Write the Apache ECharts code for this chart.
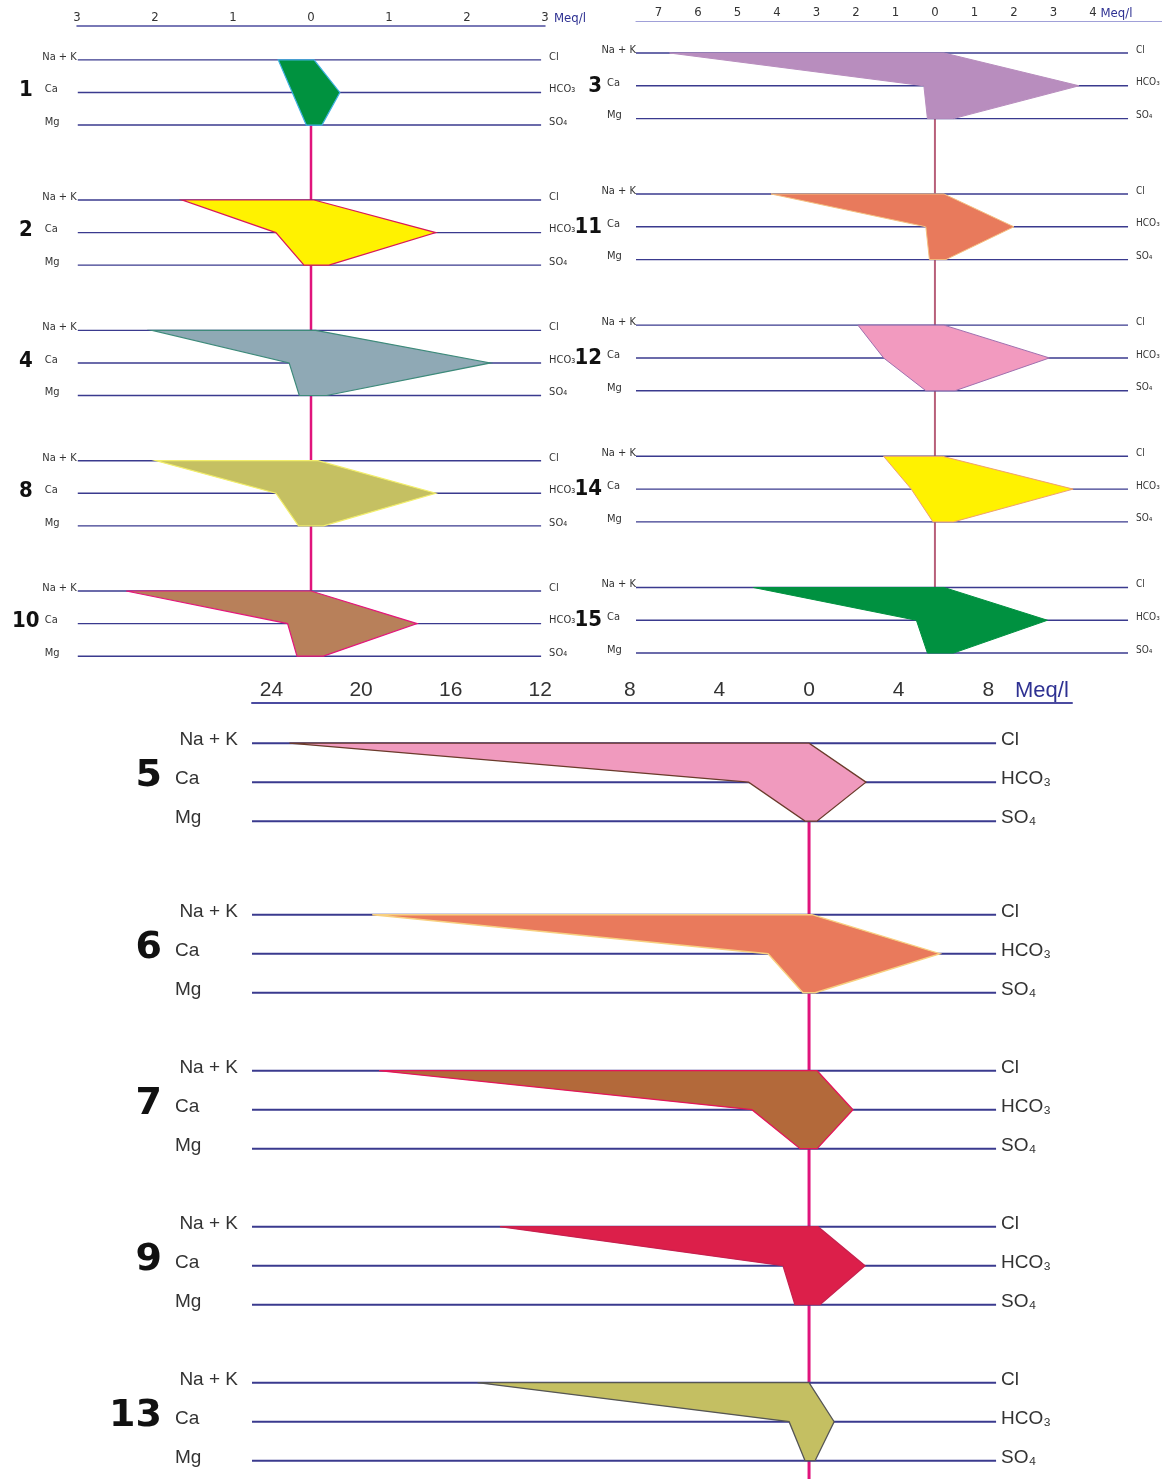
<!DOCTYPE html>
<html><head><meta charset="utf-8">
<script src="https://cdn.jsdelivr.net/npm/echarts@6/dist/echarts.min.js"></script>
<style>html,body{margin:0;padding:0;background:#fff}#c{width:1162px;height:1479px}</style>
</head><body><div id="c"></div>
<script>
// ---------- DATA (meq/l) ----------
// Upper-left panel
const leftSamples = ['1', '2', '4', '8', '10'];
const leftNaK  = [0.42, 1.65, 2.04, 1.99, 2.37];
const leftCa   = [0.24, 0.45, 0.28, 0.45, 0.30];
const leftMg   = [0.06, 0.09, 0.15, 0.16, 0.18];
const leftCl   = [0.04, 0.04, 0.06, 0.09, 0.00];
const leftHCO3 = [0.37, 1.60, 2.30, 1.60, 1.36];
const leftSO4  = [0.14, 0.23, 0.20, 0.16, 0.16];
const leftTicks = [-3, -2, -1, 0, 1, 2, 3];

// Upper-right panel
const rightSamples = ['3', '11', '12', '14', '15'];
const rightNaK  = [6.72, 4.15, 1.95, 1.30, 4.60];
const rightCa   = [0.28, 0.23, 1.30, 0.60, 0.47];
const rightMg   = [0.19, 0.14, 0.23, 0.05, 0.19];
const rightCl   = [0.23, 0.23, 0.23, 0.19, 0.23];
const rightHCO3 = [3.65, 2.00, 2.90, 3.50, 2.85];
const rightSO4  = [0.47, 0.28, 0.51, 0.47, 0.47];
const rightTicks = [-7, -6, -5, -4, -3, -2, -1, 0, 1, 2, 3, 4];

// Lower panel
const bottomSamples = ['5', '6', '7', '9', '13'];
const bottomNaK  = [23.2, 19.5, 19.2, 13.8, 14.8];
const bottomCa   = [2.70, 1.83, 2.55, 1.16, 0.89];
const bottomMg   = [0.18, 0.27, 0.40, 0.63, 0.18];
const bottomCl   = [0.00, 0.13, 0.36, 0.40, 0.00];
const bottomHCO3 = [2.54, 5.85, 1.96, 2.50, 1.12];
const bottomSO4  = [0.35, 0.27, 0.36, 0.49, 0.27];
const bottomTicks = [-24, -20, -16, -12, -8, -4, 0, 4, 8];

const cationNames = ['Na + K', 'Ca', 'Mg'];
const anionNames = ['Cl', 'HCO\u2083', 'SO\u2084'];

// ---------- STYLE ----------
const leftFill    = ['#00923f', '#fff200', '#8fa9b5', '#c5c062', '#b8805a'];
const leftStroke  = ['#3fb0e0', '#d8185a', '#3d8a7a', '#f2ee6a', '#e4157c'];
const rightFill   = ['#b88dbe', '#e87a5c', '#f29abf', '#fff200', '#009140'];
const rightStroke = ['#b88dbe', '#f5c080', '#a070b0', '#f0a070', '#009140'];
const bottomFill  = ['#f09abe', '#e97a5c', '#b3693a', '#dc1f4a', '#c4bf62'];
const bottomStroke= ['#6b3b2b', '#f8d080', '#e3155a', '#c8204e', '#555555'];

const NARROW = '"DejaVu Sans Condensed", "Liberation Sans Narrow", "Liberation Sans", sans-serif';
const SANS = '"Liberation Sans", Arial, sans-serif';

const panels = [
  { grid: {left: 77, top: 26, width: 468, height: 653}, xMin: -3, xMax: 3, yMin: -1.04, yMax: 19,
    offsets: [0, 4.3, 8.3, 12.3, 16.3], lineStart: -2.99, lineEnd: 2.95,
    samples: leftSamples, vals: [leftNaK, leftCa, leftMg, leftCl, leftHCO3, leftSO4],
    fill: leftFill, stroke: leftStroke, ticks: leftTicks,
    axisColor: '#4d4d9f', axisWidth: 1.5, tickFont: 13, tickFamily: NARROW, nameGap: 9, nameFont: 13,
    rowColor: '#3a3a8e', rowWidth: 1.4, polyWidth: 1.2, vColor: '#e0147c', vWidth: 2.5, vToEnd: false,
    lab: {font: 11, rightFont: 11, family: NARROW, nakDx: -1, caDx: -33, numDx: -52, numAlign: 'center', numFont: 22, numFamily: NARROW, numWeight: 'bold', numDy: -2, rightDx: 8, dy: -3}
  },
  { grid: {left: 636, top: 21, width: 526, height: 655}, xMin: -7.57, xMax: 5.75, yMin: -0.976, yMax: 19,
    offsets: [0, 4.3, 8.3, 12.3, 16.3], lineStart: -7.57, lineEnd: 4.89,
    samples: rightSamples, vals: [rightNaK, rightCa, rightMg, rightCl, rightHCO3, rightSO4],
    fill: rightFill, stroke: rightStroke, ticks: rightTicks,
    axisColor: '#a0a0d8', axisWidth: 1.2, tickFont: 13, tickFamily: NARROW, nameGap: -65, nameFont: 13,
    rowColor: '#3a3a8e', rowWidth: 1.4, polyWidth: 1, vColor: '#b8607a', vWidth: 2, vToEnd: false,
    lab: {font: 11, rightFont: 10, family: NARROW, nakDx: 0, caDx: -29, numDx: -34, numAlign: 'right', numFont: 22, numFamily: NARROW, numWeight: 'bold', numDy: 0, rightDx: 8, dy: -3}
  },
  { grid: {left: 252, top: 703, width: 820, height: 776}, xMin: -24.87, xMax: 11.74, yMin: -1.03, yMax: 18.87,
    offsets: [0, 4.4, 8.4, 12.4, 16.4], lineStart: -24.87, lineEnd: 8.35,
    samples: bottomSamples, vals: [bottomNaK, bottomCa, bottomMg, bottomCl, bottomHCO3, bottomSO4],
    fill: bottomFill, stroke: bottomStroke, ticks: bottomTicks,
    axisColor: '#4b4ba0', axisWidth: 2, tickFont: 21, tickFamily: SANS, nameGap: -57, nameFont: 22,
    rowColor: '#3a3a8e', rowWidth: 2, polyWidth: 1.3, vColor: '#e0147c', vWidth: 3, vToEnd: true,
    lab: {font: 19, rightFont: 19, family: SANS, nakDx: -14, caDx: -77, numDx: -90, numAlign: 'right', numFont: 38, numFamily: '"DejaVu Sans", sans-serif', numWeight: 'bold', numDy: -6, rightDx: 5, dy: -3}
  }
];

function makeRender(P) {
  return function (params, api) {
    const i = params.dataIndex;
    const v = k => api.value(k);
    const off = v(6);
    const c = (x, r) => api.coord([x, off + r]);
    const children = [];
    for (let r = 0; r < 3; r++) {
      const a = c(P.lineStart, r), b = c(P.lineEnd, r);
      children.push({type: 'line', shape: {x1: a[0], y1: a[1], x2: b[0], y2: b[1]},
        style: {stroke: P.rowColor, lineWidth: P.rowWidth}});
    }
    const pts = [c(-v(0), 0), c(v(3), 0), c(v(4), 1), c(v(5), 2), c(-v(2), 2), c(-v(1), 1)];
    children.push({type: 'polygon', shape: {points: pts},
      style: {fill: P.fill[i], stroke: P.stroke[i], lineWidth: P.polyWidth, lineJoin: 'miter'}});
    const L = P.lab;
    const font = L.font + 'px ' + L.family;
    const rfont = L.rightFont + 'px ' + L.family;
    for (let r = 0; r < 3; r++) {
      const a = c(P.lineStart, r), b = c(P.lineEnd, r);
      const isNak = r === 0;
      children.push({type: 'text', style: {
        text: cationNames[r], x: a[0] + (isNak ? L.nakDx : L.caDx), y: a[1] + L.dy,
        font: font, fill: '#333', align: isNak ? 'right' : 'left', verticalAlign: 'middle',
        textAlign: isNak ? 'right' : 'left', textVerticalAlign: 'middle'}});
      children.push({type: 'text', style: {
        text: anionNames[r], x: b[0] + L.rightDx, y: b[1] + L.dy,
        font: rfont, fill: '#333', align: 'left', verticalAlign: 'middle',
        textAlign: 'left', textVerticalAlign: 'middle'}});
    }
    const ca = c(P.lineStart, 1);
    children.push({type: 'text', style: {
      text: P.samples[i], x: ca[0] + L.numDx, y: ca[1] + L.numDy,
      font: L.numWeight + ' ' + L.numFont + 'px ' + L.numFamily, fill: '#111',
      align: L.numAlign, verticalAlign: 'middle', textAlign: L.numAlign, textVerticalAlign: 'middle'}});
    return {type: 'group', children: children};
  };
}

const grids = [], xAxes = [], yAxes = [], series = [];
panels.forEach((P, k) => {
  grids.push(P.grid);
  xAxes.push({
    type: 'value', gridIndex: k, position: 'top', min: P.xMin, max: P.xMax,
    axisLine: {show: true, onZero: false, lineStyle: {color: P.axisColor, width: P.axisWidth}},
    axisTick: {show: false}, splitLine: {show: false},
    axisLabel: {customValues: P.ticks, formatter: val => String(Math.abs(val)), color: '#333',
      fontSize: P.tickFont, fontFamily: P.tickFamily, margin: 2},
    name: 'Meq/l', nameLocation: 'end', nameGap: P.nameGap,
    nameTextStyle: {color: '#2e3192', fontSize: P.nameFont, fontFamily: P.tickFamily, verticalAlign: 'bottom', padding: [0, 0, 1, 0]}
  });
  yAxes.push({type: 'value', gridIndex: k, inverse: true, min: P.yMin, max: P.yMax, show: false});
  const data = P.samples.map((s, i) => [P.vals[0][i], P.vals[1][i], P.vals[2][i], P.vals[3][i], P.vals[4][i], P.vals[5][i], P.offsets[i]]);
  const last = P.offsets[P.offsets.length - 1];
  series.push({
    type: 'line', xAxisIndex: k, yAxisIndex: k, symbol: 'none', silent: true, z: 1,
    data: [[0, P.offsets[0] + 2], [0, P.vToEnd ? P.yMax : last]],
    lineStyle: {color: P.vColor, width: P.vWidth}
  });
  series.push({
    type: 'custom', xAxisIndex: k, yAxisIndex: k, z: 2, silent: true, clip: false,
    renderItem: makeRender(P), data: data
  });
});

const chart = echarts.init(document.getElementById('c'));
chart.setOption({animation: false, backgroundColor: '#fff', grid: grids, xAxis: xAxes, yAxis: yAxes, series: series});
</script></body></html>
